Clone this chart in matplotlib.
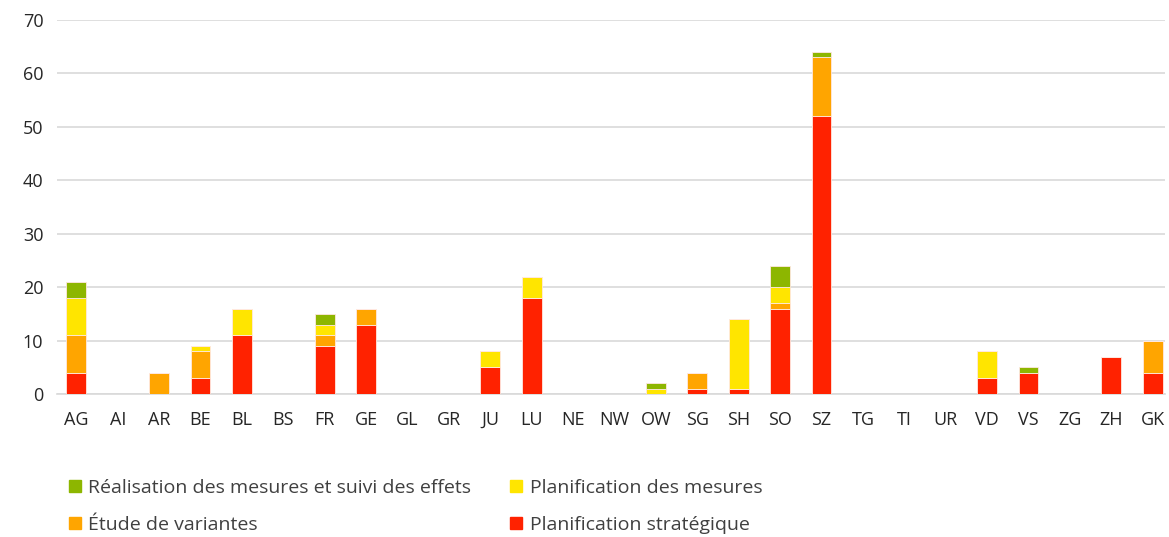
import numpy as np
import matplotlib.pyplot as plt
from matplotlib.patches import Patch

cantons = ['AG', 'AI', 'AR', 'BE', 'BL', 'BS', 'FR', 'GE', 'GL', 'GR', 'JU', 'LU', 'NE', 'NW',
           'OW', 'SG', 'SH', 'SO', 'SZ', 'TG', 'TI', 'UR', 'VD', 'VS', 'ZG', 'ZH', 'GK']
strategique = [4, 0, 0, 3, 11, 0, 9, 13, 0, 0, 5, 18, 0, 0, 0, 1, 1, 16, 52, 0, 0, 0, 3, 4, 0, 7, 4]
variantes = [7, 0, 4, 5, 0, 0, 2, 3, 0, 0, 0, 0, 0, 0, 0, 3, 0, 1, 11, 0, 0, 0, 0, 0, 0, 0, 6]
mesures = [7, 0, 0, 1, 5, 0, 2, 0, 0, 0, 3, 4, 0, 0, 1, 0, 13, 3, 0, 0, 0, 0, 5, 0, 0, 0, 0]
realisation = [3, 0, 0, 0, 0, 0, 2, 0, 0, 0, 0, 0, 0, 0, 1, 0, 0, 4, 1, 0, 0, 0, 0, 1, 0, 0, 0]

labels = ['Planification stratégique', 'Étude de variantes',
          'Planification des mesures', 'Réalisation des mesures et suivi des effets']
colors = ['#FF2200', '#FFA500', '#FFE500', '#8DB600']

plt.rcParams['font.family'] = ['Open Sans', 'DejaVu Sans']

fig = plt.figure(figsize=(11.69, 5.37), dpi=100)
ax = fig.add_axes([0.049, 0.266, 0.948, 0.697])

x = np.arange(len(cantons))
bottom = np.zeros(len(cantons))
for vals, lab, col in zip([strategique, variantes, mesures, realisation], labels, colors):
    vals = np.array(vals, dtype=float)
    ax.bar(x, vals, 0.48, bottom=bottom, color=col, edgecolor='#ffe8e0', linewidth=0.6,
           label=lab, zorder=3)
    bottom += vals

ax.set_xlim(-0.46, 26.31)
ax.set_ylim(0, 70)
ax.set_yticks(range(0, 71, 10))
ax.set_xticks(x)
ax.set_xticklabels(cantons)
ax.grid(axis='y', color='#d9d9d9', linewidth=1.2, zorder=0)
for s in ['top', 'right', 'left']:
    ax.spines[s].set_visible(False)
ax.spines['bottom'].set_color('#d9d9d9')
ax.spines['bottom'].set_linewidth(1.2)
ax.tick_params(axis='both', length=0, labelsize=13, colors='#262626')
ax.tick_params(axis='x', pad=12)
ax.tick_params(axis='y', pad=10)

# legend: column-first fill, so order gives green/yellow on row 1, orange/red on row 2
handles = [Patch(color=colors[3]), Patch(color=colors[1]), Patch(color=colors[2]), Patch(color=colors[0])]
hl = [labels[3], labels[1], labels[2], labels[0]]
leg = fig.legend(handles, hl, ncol=2, loc='lower left', bbox_to_anchor=(0.044, -0.027),
                 frameon=False, handlelength=0.6, handleheight=0.6,
                 handletextpad=0.4, columnspacing=2.0, labelspacing=1.0,
                 prop={'family': ['Open Sans', 'DejaVu Sans'], 'size': 14})
for t in leg.get_texts():
    t.set_color('#404040')

fig.savefig('out.png', dpi=100)
